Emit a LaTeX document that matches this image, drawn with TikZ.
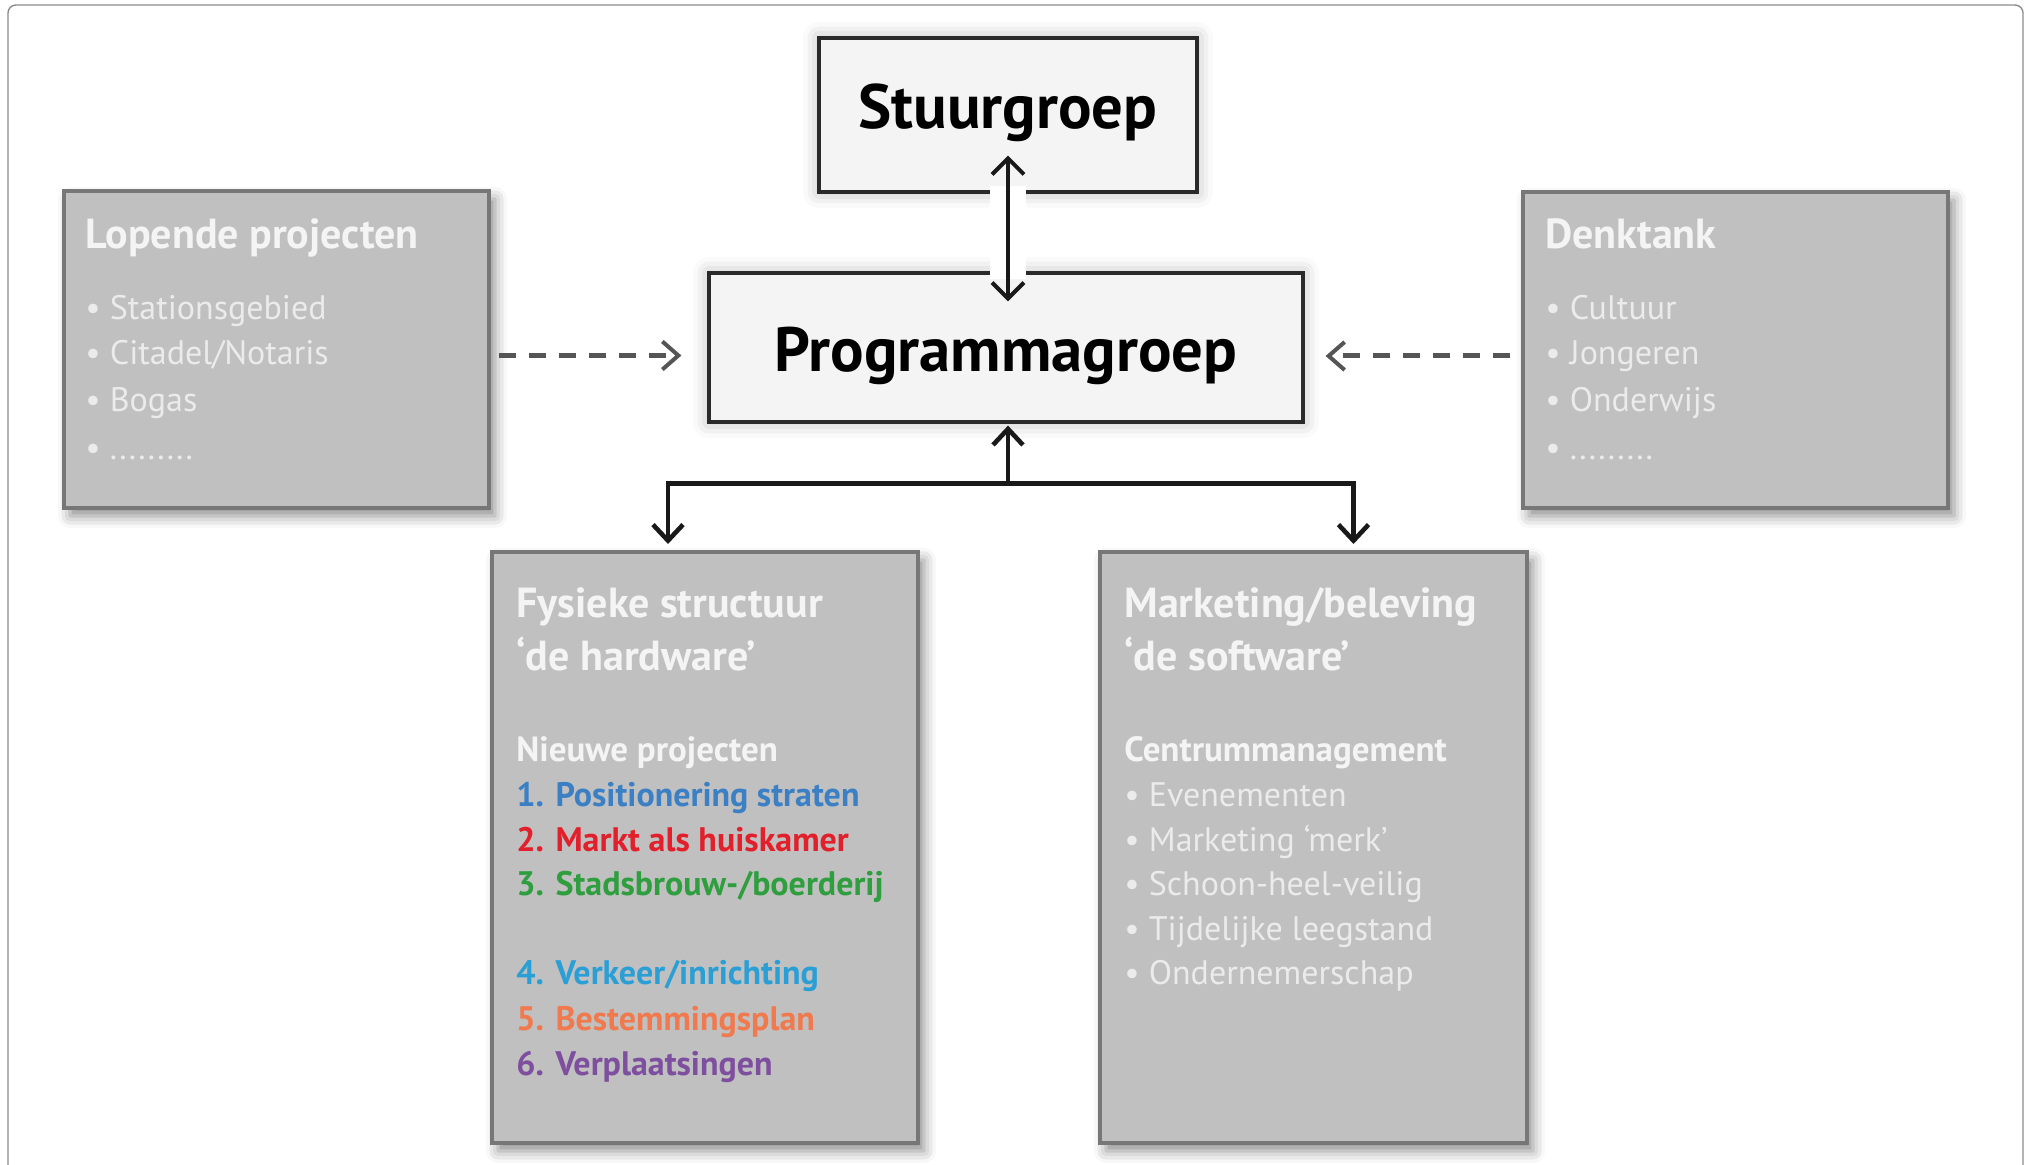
\documentclass[tikz,border=0pt]{standalone}
\usepackage{fontspec}
\setmainfont{PT Sans}
\usetikzlibrary{arrows.meta,calc,shadows.blur}

\definecolor{boxgray}{HTML}{C0C0C0}
\definecolor{boxedge}{HTML}{777777}
\definecolor{lightfill}{HTML}{F4F4F4}
\definecolor{darkedge}{HTML}{2A2A2A}
\definecolor{dashgray}{HTML}{555555}
\definecolor{softwhite}{HTML}{F4F4F4}
\definecolor{itemwhite}{HTML}{EBEBEB}
\definecolor{projblue}{HTML}{3B7FC4}
\definecolor{projred}{HTML}{E2202C}
\definecolor{projgreen}{HTML}{2E9E3E}
\definecolor{projcyan}{HTML}{2A9FD6}
\definecolor{projorange}{HTML}{F07A4E}
\definecolor{projpurple}{HTML}{7F4F9F}

\begin{document}
\begin{tikzpicture}[x=0.5pt,y=-0.5pt,
  frame/.style={draw=black!45, line width=0.7pt, rounded corners=4pt},
  lightbox/.style={draw=darkedge, fill=lightfill, line width=1.6pt,
    blur shadow={shadow xshift=0pt, shadow yshift=0pt, shadow blur radius=8pt, shadow opacity=30},
    font=\bfseries\fontsize{31.3}{35}\selectfont, text=black, inner sep=0pt},
  graybox/.style={draw=boxedge, fill=boxgray, line width=2pt, anchor=north west,
    blur shadow={shadow xshift=3pt, shadow yshift=-4pt, shadow blur radius=6pt, shadow opacity=45}},
  txttitle/.style={font=\bfseries\fontsize{21}{24}\selectfont, text=softwhite, inner sep=0pt, anchor=base west},
  txtsub/.style={font=\bfseries\fontsize{17.5}{20}\selectfont, text=softwhite, inner sep=0pt, anchor=base west},
  txtitem/.style={font=\fontsize{17}{20}\selectfont, text=itemwhite, inner sep=0pt, anchor=base west},
  txtproj/.style={font=\bfseries\fontsize{17}{20}\selectfont, inner sep=0pt, anchor=base west},
  conn/.style={draw=black!90, line width=2.3pt},
  solidtip/.style={-{Straight Barb[length=8pt,width=15pt]}},
  dashconn/.style={draw=dashgray, line width=2.5pt, dash pattern=on 8.5pt off 6.5pt,
    -{Straight Barb[length=8pt,width=14pt,line width=2pt]}}
]
\useasboundingbox (0,0) rectangle (2031,1165);

% outer frame, open towards the bottom edge
\draw[frame] (8,1190) -- (8,5) -- (2023,5) -- (2023,1190);

% central boxes
\node[lightbox, minimum width=189pt, minimum height=77pt, text height=22pt, text depth=8.4pt]
  (stuur) at (1008,115) {Stuurgroep};
\node[lightbox, minimum width=297pt, minimum height=74.5pt, text height=24pt, text depth=0pt]
  (prog) at (1006,347.5) {Programmagroep};

% side boxes
\node[graybox, minimum width=212.5pt, minimum height=158.5pt] (lop) at (62,189) {};
\node[graybox, minimum width=212.5pt, minimum height=158pt] (denk) at (1521,190) {};
\node[graybox, minimum width=213pt, minimum height=295.5pt] (fys) at (490,550) {};
\node[graybox, minimum width=213.5pt, minimum height=295.5pt] (mkt) at (1098,550) {};

% Lopende projecten
\node[txttitle] (lopT) at (85,249) {Lopende projecten};
\node[txtitem] (lop1) at (85,320) {• Stationsgebied};
\node[txtitem] (lop2) at (85,365) {• Citadel/Notaris};
\node[txtitem] (lop3) at (85,412) {• Bogas};
\node[txtitem] (lop4) at (85,460) {• .........};

% Denktank
\node[txttitle] (denkT) at (1545,249) {Denktank};
\node[txtitem] (denk1) at (1545,320) {• Cultuur};
\node[txtitem] (denk2) at (1545,365) {• Jongeren};
\node[txtitem] (denk3) at (1545,412) {• Onderwijs};
\node[txtitem] (denk4) at (1545,460) {• .........};

% Fysieke structuur
\node[txttitle] (fysT1) at (516,618) {Fysieke structuur};
\node[txttitle] (fysT2) at (516,671) {‘de hardware’};
\node[txtsub] (fysS) at (516,762) {Nieuwe projecten};
\node[txtproj, text=projblue] (fys1) at (516,806) {1. Positionering straten};
\node[txtproj, text=projred] (fys2) at (516,851) {2. Markt als huiskamer};
\node[txtproj, text=projgreen] (fys3) at (516,895) {3. Stadsbrouw-/boerderij};
\node[txtproj, text=projcyan] (fys4) at (516,984) {4. Verkeer/inrichting};
\node[txtproj, text=projorange] (fys5) at (516,1030) {5. Bestemmingsplan};
\node[txtproj, text=projpurple] (fys6) at (516,1075) {6. Verplaatsingen};

% Marketing/beleving
\node[txttitle] (mktT1) at (1124,618) {Marketing/beleving};
\node[txttitle] (mktT2) at (1124,671) {‘de software’};
\node[txtsub] (mktS) at (1124,762) {Centrummanagement};
\node[txtitem] (mkt1) at (1124,806) {• Evenementen};
\node[txtitem] (mkt2) at (1124,851) {• Marketing ‘merk’};
\node[txtitem] (mkt3) at (1124,895) {• Schoon-heel-veilig};
\node[txtitem] (mkt4) at (1124,940) {• Tijdelijke leegstand};
\node[txtitem] (mkt5) at (1124,984) {• Ondernemerschap};

% Stuurgroep <-> Programmagroep, cutting through both borders
\draw[conn, line width=2pt, {Straight Barb[length=8pt,width=16pt]}-{Straight Barb[length=8pt,width=16pt]},
  shorten <=-19pt, shorten >=-15pt,
  preaction={draw=white, line width=18pt, shorten <=-4pt, shorten >=-4pt, -}]
  (stuur.south) -- (stuur.south |- prog.north);

% tree below Programmagroep
\coordinate (jn) at ($(prog.south)+(2,60)$);
\draw[conn, solidtip, shorten >=1pt] (jn) -- (jn |- prog.south);
\draw[conn, solidtip, shorten >=3pt] (jn) -| ($(fys.north)+(-37,0)$);
\draw[conn, solidtip, shorten >=3pt] (jn) -| ($(mkt.north)+(40,0)$);

% dashed feeds into Programmagroep
\draw[dashconn, shorten <=4pt, shorten >=13pt]
  ([yshift=-3pt]lop.east) -- ([yshift=-3pt]lop.east -| prog.west);
\draw[dashconn, shorten <=5.5pt, shorten >=10.5pt]
  ([yshift=-3pt]denk.west) -- ([yshift=-3pt]denk.west -| prog.east);
\end{tikzpicture}
\end{document}
